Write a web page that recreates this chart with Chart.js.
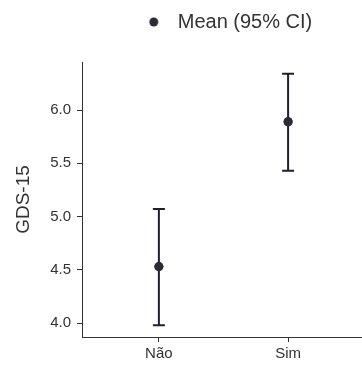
<!DOCTYPE html>
<html>
<head>
<meta charset="utf-8">
<script src="https://cdn.jsdelivr.net/npm/chart.js@4/dist/chart.umd.min.js"></script>
<style>
  html, body { margin: 0; padding: 0; background: #fff; }
  #wrap { width: 362px; height: 365px; }
</style>
</head>
<body>
<div id="wrap"><canvas id="ciChart" width="362" height="365"></canvas></div>
<script>
var categories = ["Não", "Sim"];
var means = [4.53, 5.89];
var lower = [3.98, 5.43];
var upper = [5.07, 6.34];
var yTicks = [4.0, 4.5, 5.0, 5.5, 6.0];

var ink = "#1f1f33";
var dotColor = "#2b2b38";
var textColor = "#333333";
var font = "'Liberation Sans', Arial, sans-serif";

// legend marker: dot sits left of the box so the gap to the text matches
function legendDot() {
  var c = document.createElement("canvas");
  c.width = 30; c.height = 12;
  var g = c.getContext("2d");
  g.fillStyle = dotColor;
  g.beginPath();
  g.arc(11, 6, 4.5, 0, Math.PI * 2);
  g.fill();
  return c;
}

var errorBars = {
  id: "errorBars",
  afterDatasetsDraw: function(chart) {
    var ctx = chart.ctx;
    var xs = chart.scales.x, ys = chart.scales.y;
    ctx.save();
    ctx.strokeStyle = ink;
    ctx.lineWidth = 2;
    for (var i = 0; i < categories.length; i++) {
      var x = xs.getPixelForValue(i + 1);
      var y1 = ys.getPixelForValue(lower[i]);
      var y2 = ys.getPixelForValue(upper[i]);
      ctx.beginPath();
      ctx.moveTo(x, y1); ctx.lineTo(x, y2);
      ctx.moveTo(x - 6, y1); ctx.lineTo(x + 6, y1);
      ctx.moveTo(x - 6, y2); ctx.lineTo(x + 6, y2);
      ctx.stroke();
    }
    ctx.restore();
    // means go on top of the bars
    chart.getDatasetMeta(0).controller.draw();
  }
};

var legendBox = {
  id: "legendBox",
  beforeLayout: function(chart) {
    var lg = chart.legend;
    if (lg && !lg._tall) {
      var fit = lg.fit;
      lg.fit = function() { fit.call(this); this.height = 62; };
      lg._tall = true;
    }
  },
  afterLayout: function(chart) {
    chart.legend.left += 8;
    chart.legend.right += 8;
  }
};

var points = means.map(function(m, i) {
  return { x: i + 1, y: m };
});

var ctx = document.getElementById("ciChart").getContext("2d");
new Chart(ctx, {
  type: "scatter",
  data: {
    datasets: [{
      label: "Mean (95% CI)",
      data: points,
      pointRadius: 4.5,
      pointHoverRadius: 4.5,
      backgroundColor: dotColor,
      borderColor: dotColor,
      borderWidth: 0
    }]
  },
  options: {
    responsive: false,
    animation: false,
    layout: { padding: 0, autoPadding: false },
    plugins: {
      tooltip: { enabled: false },
      legend: {
        position: "top",
        align: "center",
        fullSize: false,
        labels: {
          font: { family: font, size: 20 },
          color: textColor,
          padding: 12,
          usePointStyle: true,
          generateLabels: function(chart) {
            return [{
              text: chart.data.datasets[0].label,
              pointStyle: legendDot(),
              fillStyle: dotColor,
              strokeStyle: dotColor,
              lineWidth: 0,
              datasetIndex: 0,
              fontColor: textColor
            }];
          }
        }
      }
    },
    scales: {
      x: {
        type: "linear",
        min: 0.405,
        max: 2.572,
        afterBuildTicks: function(scale) {
          scale.ticks = categories.map(function(c, i) { return { value: i + 1 }; });
        },
        afterFit: function(scale) {
          scale.height = 28;
          scale.paddingLeft = 0;
          scale.paddingRight = 0;
        },
        ticks: {
          font: { family: font, size: 15 },
          color: textColor,
          padding: 3,
          callback: function(v) { return categories[v - 1]; }
        },
        grid: { drawOnChartArea: false, tickLength: 5, color: "#333", lineWidth: 1 },
        border: { color: "#333", width: 1 }
      },
      y: {
        min: 3.869,
        max: 6.451,
        afterBuildTicks: function(scale) {
          scale.ticks = yTicks.map(function(v) { return { value: v }; });
        },
        afterFit: function(scale) {
          scale.width = 82;
          scale.paddingTop = 0;
          scale.paddingBottom = 0;
        },
        ticks: {
          font: { family: font, size: 15 },
          color: textColor,
          padding: 6,
          callback: function(v) { return Number(v).toFixed(1); }
        },
        grid: { drawOnChartArea: false, tickLength: 5, color: "#333", lineWidth: 1 },
        border: { color: "#333", width: 1 },
        title: {
          display: true,
          text: "GDS-15",
          font: { family: font, size: 19 },
          color: textColor,
          padding: { top: 12, bottom: 0 }
        }
      }
    }
  },
  plugins: [errorBars, legendBox]
});
</script>
</body>
</html>
